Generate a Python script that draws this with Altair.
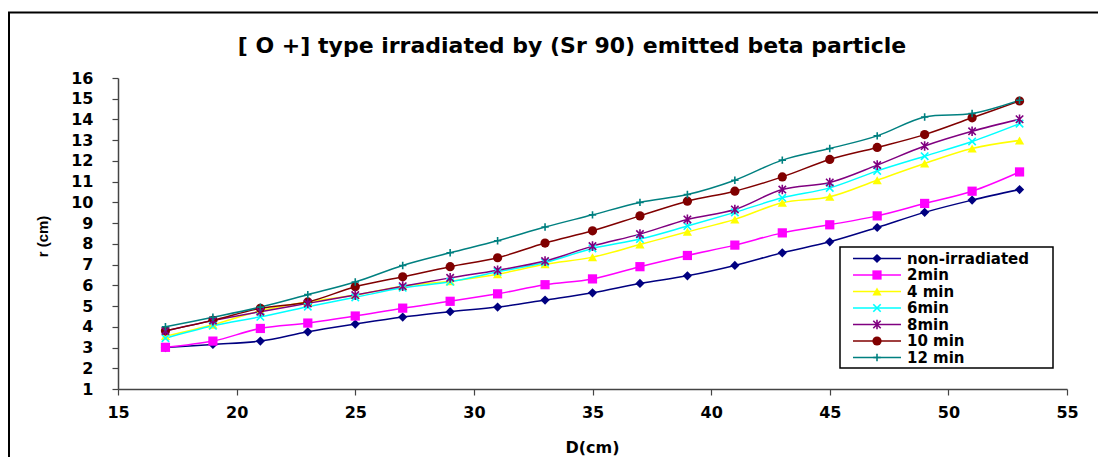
import altair as alt
import pandas as pd

# ---------------- data ----------------
D = [17, 19, 21, 23, 25, 27, 29, 31, 33, 35, 37, 39, 41, 43, 45, 47, 49, 51, 53]

series_names = ["non-irradiated", "2min", "4 min", "6min", "8min", "10 min", "12 min"]

non_irradiated = [3.0, 3.15, 3.31, 3.76, 4.13, 4.47, 4.73, 4.95, 5.29, 5.64, 6.09, 6.46, 6.96, 7.57, 8.1, 8.79, 9.52, 10.11, 10.62]
min2 = [3.01, 3.31, 3.92, 4.18, 4.52, 4.9, 5.23, 5.59, 6.03, 6.31, 6.9, 7.44, 7.94, 8.53, 8.92, 9.35, 9.95, 10.54, 11.47]
min4 = [3.55, 4.1, 4.77, 5.2, 5.53, 5.96, 6.2, 6.54, 7.02, 7.36, 7.97, 8.58, 9.18, 9.98, 10.27, 11.07, 11.88, 12.6, 12.99]
min6 = [3.45, 4.05, 4.48, 4.97, 5.42, 5.88, 6.17, 6.65, 7.1, 7.78, 8.23, 8.86, 9.52, 10.22, 10.7, 11.52, 12.23, 12.94, 13.8]
min8 = [3.8, 4.3, 4.73, 5.13, 5.53, 5.96, 6.36, 6.73, 7.17, 7.89, 8.47, 9.18, 9.66, 10.62, 10.96, 11.8, 12.72, 13.43, 14.01]
min10 = [3.81, 4.31, 4.89, 5.2, 5.93, 6.41, 6.9, 7.33, 8.04, 8.63, 9.35, 10.06, 10.54, 11.23, 12.07, 12.65, 13.27, 14.08, 14.89]
min12 = [4.0, 4.46, 4.95, 5.55, 6.16, 6.96, 7.57, 8.15, 8.81, 9.4, 10.0, 10.38, 11.07, 12.04, 12.6, 13.21, 14.12, 14.29, 14.93]

series_values = [non_irradiated, min2, min4, min6, min8, min10, min12]

x_ticks = [15, 20, 25, 30, 35, 40, 45, 50, 55]
y_ticks = list(range(1, 17))

title_text = "[ O +] type irradiated by (Sr 90) emitted beta particle"

# ---------------- styles ----------------
colors = ["#000080", "#FF00FF", "#FFFF00", "#00FFFF", "#800080", "#800000", "#008080"]
shapes = [
    "diamond",
    "square",
    "triangle-up",
    "M-1,-1L1,1M-1,1L1,-1",
    "M-1,-1L1,1M-1,1L1,-1M0,-1.3L0,1.3",
    "circle",
    "M-1,0L1,0M0,-1L0,1",
]
filled_series = ["non-irradiated", "2min", "4 min", "10 min"]
stroked_series = ["6min", "8min", "12 min"]

FONT = "DejaVu Sans"
FONT2 = "Liberation Sans"
W, H = 949, 311

rows = []
for name, vals in zip(series_names, series_values):
    for d, v in zip(D, vals):
        rows.append({"D": d, "r": v, "series": name})
df = pd.DataFrame(rows)

legend_df = pd.DataFrame({"series": series_names, "idx": list(range(len(series_names)))})

cscale = alt.Scale(domain=series_names, range=colors)
sscale = alt.Scale(domain=series_names, range=shapes)

x_axis = alt.Axis(
    values=x_ticks, title="D(cm)", grid=False, labelFlush=False,
    labelOverlap=False, tickSize=6, labelPadding=9, titleX=474, titleY=58,
    titleBaseline="middle", titleAlign="center",
    titleFont=FONT, titleFontSize=16,
)
y_axis = alt.Axis(
    values=y_ticks, title="r (cm)", grid=False, tickSize=6,
    labelOverlap=False, labelPadding=19, titleX=-76, titleY=158,
    titleAngle=-90, titleAlign="center", titleBaseline="middle",
    titleFont=FONT2, titleFontSize=15,
)
x_scale = alt.Scale(domain=[15, 55], nice=False, zero=False)
y_scale = alt.Scale(domain=[1, 16], nice=False, zero=False)


def xe():
    return alt.X("D:Q", scale=x_scale, axis=x_axis)


def ye():
    return alt.Y("r:Q", scale=y_scale, axis=y_axis)


color_enc = alt.Color("series:N", scale=cscale, legend=None)
shape_enc = alt.Shape("series:N", scale=sscale, legend=None)

frame = alt.Chart(pd.DataFrame({"a": [0]})).mark_rect(
    fillOpacity=0, stroke="black", strokeWidth=2
).encode(
    x=alt.value(-109), x2=alt.value(1300), y=alt.value(-65.5), y2=alt.value(700)
)

title = alt.Chart(pd.DataFrame({"t": [title_text]})).mark_text(
    font=FONT, fontSize=22, fontWeight="bold", align="center", baseline="alphabetic", color="black"
).encode(x=alt.value(454), y=alt.value(-25), text="t:N")

lines = alt.Chart(df).mark_line(strokeWidth=1.5, interpolate="catmull-rom").encode(
    x=xe(), y=ye(), color=color_enc
)

pts_filled = alt.Chart(df).transform_filter(
    alt.FieldOneOfPredicate(field="series", oneOf=filled_series)
).mark_point(filled=True, size=85, opacity=1).encode(
    x=xe(), y=ye(), color=color_enc, shape=shape_enc
)
pts_stroked = alt.Chart(df).transform_filter(
    alt.FieldOneOfPredicate(field="series", oneOf=stroked_series)
).mark_point(filled=False, size=55, strokeWidth=1.6, opacity=1).encode(
    x=xe(), y=ye(), color=color_enc, shape=shape_enc
)

# manual legend (line + marker + label)
leg_box = alt.Chart(pd.DataFrame({"a": [0]})).mark_rect(
    fill="white", stroke="black", strokeWidth=1.5
).encode(x=alt.value(722), x2=alt.value(935), y=alt.value(169), y2=alt.value(290))

leg_base = alt.Chart(legend_df).transform_calculate(py="180.5 + datum.idx * 16.5")
leg_rules = leg_base.mark_rule(strokeWidth=1.5).encode(
    x=alt.value(735), x2=alt.value(783), y=alt.Y("py:Q", scale=None), color=color_enc
)
leg_pf = leg_base.transform_filter(
    alt.FieldOneOfPredicate(field="series", oneOf=filled_series)
).mark_point(filled=True, size=85, opacity=1).encode(
    x=alt.value(759), y=alt.Y("py:Q", scale=None), color=color_enc, shape=shape_enc
)
leg_ps = leg_base.transform_filter(
    alt.FieldOneOfPredicate(field="series", oneOf=stroked_series)
).mark_point(filled=False, size=55, strokeWidth=1.6, opacity=1).encode(
    x=alt.value(759), y=alt.Y("py:Q", scale=None), color=color_enc, shape=shape_enc
)
leg_text = leg_base.mark_text(
    font=FONT, fontSize=15, fontWeight="bold", align="left", baseline="middle", color="black"
).encode(x=alt.value(789), y=alt.Y("py:Q", scale=None), text="series:N")

chart = alt.layer(
    frame, title, lines, pts_filled, pts_stroked,
    leg_box, leg_rules, leg_pf, leg_ps, leg_text,
).properties(
    width=W, height=H,
    autosize=alt.AutoSizeParams(type="none"),
    padding={"left": 110, "top": 70, "right": 31, "bottom": 68},
    background="white",
).configure_view(stroke=None).configure_axis(
    labelFont=FONT, labelFontSize=16, labelFontWeight="bold", labelColor="black",
    titleFontWeight="bold", titleColor="black",
    domainColor="#444", tickColor="#444", domainWidth=1.5, tickWidth=1.2,
)

chart.save("out.html", embed_options={"renderer": "svg", "actions": False})
